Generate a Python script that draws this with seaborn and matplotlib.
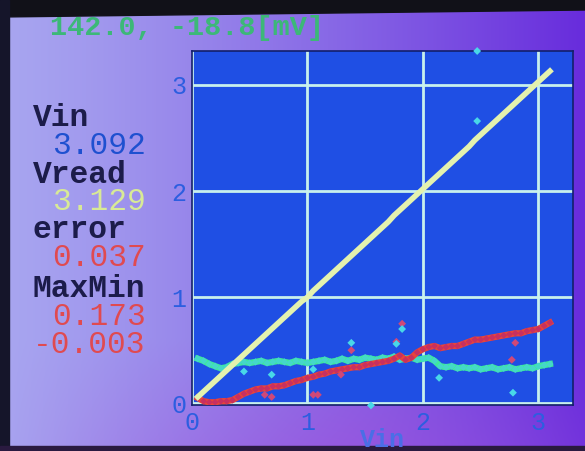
import numpy as np
import pandas as pd
import matplotlib
matplotlib.use("Agg")
import matplotlib.pyplot as plt
import seaborn as sns

# ---------------- data ----------------
vin = [0.05, 0.10, 0.15, 0.20, 0.25, 0.30, 0.35, 0.40, 0.45, 0.50,
       0.55, 0.60, 0.65, 0.70, 0.75, 0.80, 0.85, 0.90, 0.95, 1.00,
       1.05, 1.10, 1.15, 1.20, 1.25, 1.30, 1.35, 1.40, 1.45, 1.50,
       1.55, 1.60, 1.65, 1.70, 1.75, 1.80, 1.85, 1.90, 1.95, 2.00,
       2.05, 2.10, 2.15, 2.20, 2.25, 2.30, 2.35, 2.40, 2.45, 2.50,
       2.55, 2.60, 2.65, 2.70, 2.75, 2.80, 2.85, 2.90, 2.95, 3.00,
       3.05, 3.10]
vread = [0.06, 0.11, 0.16, 0.21, 0.26, 0.31, 0.36, 0.41, 0.46, 0.51,
         0.56, 0.61, 0.66, 0.71, 0.76, 0.81, 0.86, 0.91, 0.96, 1.00,
         1.06, 1.11, 1.16, 1.21, 1.26, 1.31, 1.36, 1.41, 1.46, 1.51,
         1.56, 1.61, 1.66, 1.71, 1.77, 1.82, 1.87, 1.92, 1.97, 2.02,
         2.07, 2.12, 2.17, 2.22, 2.27, 2.32, 2.37, 2.42, 2.48, 2.53,
         2.58, 2.63, 2.68, 2.73, 2.78, 2.83, 2.88, 2.93, 2.98, 3.03,
         3.08, 3.13]
error_trace = [0.05, 0.02, 0.01, 0.01, 0.02, 0.02, 0.03, 0.06, 0.09, 0.11,
               0.13, 0.14, 0.14, 0.16, 0.16, 0.17, 0.19, 0.21, 0.22, 0.24,
               0.25, 0.27, 0.28, 0.30, 0.31, 0.32, 0.33, 0.34, 0.34, 0.36,
               0.37, 0.38, 0.39, 0.40, 0.42, 0.45, 0.41, 0.43, 0.48, 0.51,
               0.53, 0.54, 0.52, 0.53, 0.54, 0.54, 0.56, 0.58, 0.60, 0.60,
               0.61, 0.62, 0.63, 0.64, 0.65, 0.66, 0.66, 0.68, 0.69, 0.70,
               0.73, 0.76]
noise_trace = [0.42, 0.40, 0.37, 0.35, 0.33, 0.34, 0.37, 0.38, 0.39, 0.38,
               0.39, 0.40, 0.38, 0.39, 0.40, 0.39, 0.38, 0.40, 0.39, 0.38,
               0.39, 0.40, 0.41, 0.39, 0.40, 0.42, 0.40, 0.42, 0.41, 0.43,
               0.42, 0.41, 0.43, 0.42, 0.44, 0.41, 0.42, 0.43, 0.41, 0.42,
               0.43, 0.40, 0.35, 0.34, 0.35, 0.33, 0.34, 0.33, 0.34, 0.32,
               0.33, 0.34, 0.32, 0.33, 0.34, 0.32, 0.33, 0.34, 0.33, 0.35,
               0.36, 0.37]
cyan_x = [2.47, 2.47, 1.55, 2.78, 1.38, 1.82, 1.77, 0.69, 2.14, 0.45, 1.05]
cyan_y = [3.32, 2.66, -0.02, 0.10, 0.57, 0.70, 0.56, 0.27, 0.24, 0.30, 0.32]
red_x = [1.82, 1.77, 1.38, 0.63, 0.69, 1.05, 1.09, 1.29, 2.77, 2.80]
red_y = [0.75, 0.58, 0.50, 0.08, 0.06, 0.08, 0.08, 0.27, 0.41, 0.57]
ticks = [0, 1, 2, 3]
tick_labels = ["0", "1", "2", "3"]
header_text = "142.0, -18.8[mV]"
side_labels = ["Vin", "Vread", "error", "MaxMin"]
side_values = ["3.092", "3.129", "0.037", "0.173", "-0.003"]

df = pd.DataFrame({"Vin": vin, "Vread": vread, "err": error_trace, "noise": noise_trace})

# ---------------- figure ----------------
W, H = 585, 451
fig = plt.figure(figsize=(W / 100, H / 100), dpi=100)

# background gradient (photo of LCD)
bg = fig.add_axes([0, 0, 1, 1], zorder=0)
gx = np.linspace(0, 1, 300)[None, :]
gy = np.linspace(0, 1, 240)[:, None]
c_left = np.array([168, 166, 240]) / 255
c_right = np.array([104, 44, 220]) / 255
c_bot = np.array([160, 80, 220]) / 255
t = np.clip(gx ** 1.2, 0, 1)[..., None]
img = c_left * (1 - t) + c_right * t
tb = np.clip((gy - 0.75) / 0.25, 0, 1)[..., None] * (1 - np.abs(gx - 0.6) * 1.6).clip(0, 1)[..., None]
img = img * (1 - 0.6 * tb) + c_bot * 0.6 * tb
bg.imshow(img, extent=[0, W, H, 0], aspect="auto")
# dark photo borders
bg.fill([0, 340, 585, 585, 0], [0, 0, 0, 10, 17], color="#111118")
bg.fill([0, 9, 9, 0], [0, 0, H, H], color="#15152a")
bg.fill([0, W, W, 0], [446, 446, H, H], color="#2a1a40")
bg.set_xlim(0, W)
bg.set_ylim(H, 0)
bg.axis("off")

ax = fig.add_axes([192 / W, 1 - 405 / H, (573 - 192) / W, (405 - 51) / H], zorder=1)
ax.set_facecolor("#1f4fe4")

sns.lineplot(data=df, x="Vin", y="noise", ax=ax, color="#3ee89c", lw=4.5, zorder=3)
sns.scatterplot(data=df, x="Vin", y="noise", ax=ax, color="#44d8c8", marker="D",
                s=14, edgecolor="none", zorder=4)
sns.lineplot(data=df, x="Vin", y="err", ax=ax, color="#e8443a", lw=4.5, zorder=5)
sns.scatterplot(data=df, x="Vin", y="err", ax=ax, color="#c83060", marker="D",
                s=12, edgecolor="none", zorder=6)
sns.lineplot(data=df, x="Vin", y="Vread", ax=ax, color="#e4f2ae", lw=4, zorder=7)
sns.scatterplot(x=red_x, y=red_y, ax=ax, color="#d04878", marker="D", s=16,
                edgecolor="none", zorder=8)
sns.scatterplot(x=cyan_x, y=cyan_y, ax=ax, color="#48d8e8", marker="D", s=16,
                edgecolor="none", zorder=8, clip_on=False)

ax.set_xlim(0.02, 3.30)
ax.set_ylim(-0.016, 3.32)
ax.set_xticks(ticks)
ax.set_xticklabels(tick_labels)
ax.set_yticks(ticks)
ax.set_yticklabels(tick_labels)
ax.grid(True, color="#c8f0ec", lw=2)
ax.set_axisbelow(True)
ax.tick_params(length=0, colors="#2c5ee0", labelsize=18, pad=4)
for lab in ax.get_xticklabels() + ax.get_yticklabels():
    lab.set_family("Liberation Mono")
for s in ax.spines.values():
    s.set_color("#12206a")
    s.set_linewidth(1.2)
ax.set_xlabel("Vin", family="Liberation Mono", fontsize=18, color="#4a6ee6",
              fontweight="bold", labelpad=-5)
ax.set_ylabel("")

def ftext(px, py, s, color, size, weight="bold"):
    fig.text(px / W, 1 - py / H, s, color=color, fontsize=size,
             family="Liberation Mono", fontweight=weight, va="center", ha="left")

ftext(50, 28, header_text, "#3cb878", 20.5)
lab_col = "#1c1c4a"
ftext(33, 118, side_labels[0], lab_col, 22.5)
ftext(52, 146, side_values[0], "#1e50d0", 22.5, "normal")
ftext(33, 175, side_labels[1], lab_col, 22.5)
ftext(52, 202, side_values[1], "#d8ea96", 22.5, "normal")
ftext(33, 230, side_labels[2], lab_col, 22.5)
ftext(52, 258, side_values[2], "#e04a50", 22.5, "normal")
ftext(33, 289, side_labels[3], lab_col, 22.5)
ftext(52, 317, side_values[3], "#e04a50", 22.5, "normal")
ftext(33, 345, side_values[4], "#e04a50", 22.5, "normal")

fig.savefig("out.png", dpi=100)
